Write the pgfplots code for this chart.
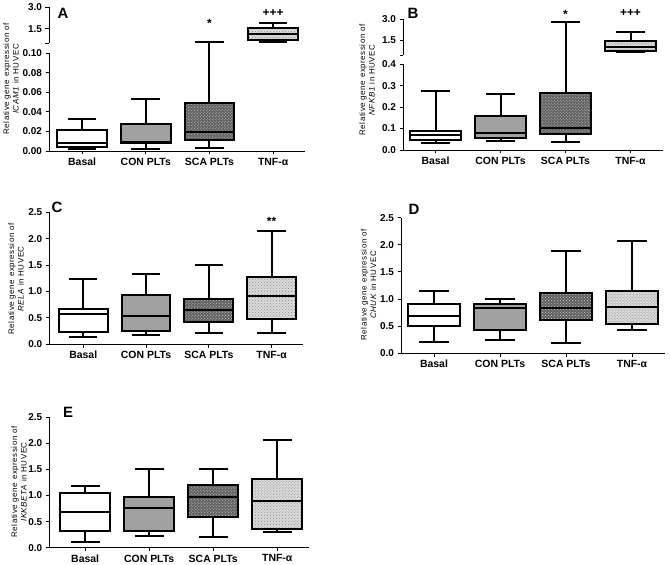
\documentclass[border=0pt]{standalone}
\usepackage{fontspec}
\setmainfont{Liberation Sans}
\newfontfamily\lsfont[LetterSpace=7]{Liberation Sans}
\usepackage{pgfplots}
\pgfplotsset{compat=1.18}
\usepgfplotslibrary{statistics}
\usetikzlibrary{patterns}

\pgfplotsset{
  panel/.style={scale only axis, anchor=south west, xmin=0.5, xmax=4.5, clip=false,
    axis x line*=bottom, axis y line*=left,
    axis line style={-, line width=0.9bp, black},
    tick align=outside, major tick length=3.5bp, tick style={black, line width=0.9bp},
    xtick={1,2,3,4}, xticklabels={Basal,CON PLTs,SCA PLTs,TNF-α},
    x tick label style={font=\bfseries\fontsize{10.5}{10.5}\selectfont},
    y tick label style={font=\bfseries\fontsize{10}{10}\selectfont},
    /pgf/number format/assume math mode=true,
    boxplot/draw direction=y,
    boxplot/box extend=0.78, boxplot/whisker extend=0.45},
  onedec/.style={ymin=0, ymax=2.5, ytick={0,0.5,1,1.5,2,2.5},
    yticklabel style={/pgf/number format/.cd, fixed, fixed zerofill, precision=1}},
  top/.style={panel, axis x line=none, xtick=\empty, ymin=0.5, ymax=3,
    ytick={0.5,1.5,3}, yticklabels={,1.5,3.0}},
  bx/.style={draw=black, line width=2bp, solid, mark=none},
  basal/.style={bx, fill=white},
  con/.style={bx, fill=black!37},
  sca/.style={bx, fill=black!62,
    boxplot/every box/.style={postaction={pattern=crosshatch dots, pattern color=black!22}}},
  tnf/.style={bx, fill=black!14,
    boxplot/every box/.style={postaction={pattern=crosshatch dots, pattern color=black!45}}},
}
\tikzset{ylab/.style={rotate=90, align=center, font=\lsfont\fontsize{8}{9.5}\selectfont},
  letter/.style={font=\bfseries\fontsize{15}{15}\selectfont},
  sig/.style={font=\bfseries\fontsize{12}{12}\selectfont}}

\begin{document}
\begin{tikzpicture}
\path[use as bounding box] (0bp,0bp) rectangle (670bp,565bp);

% ---------- A ----------
\begin{axis}[panel, at={(49bp,414bp)}, width=256bp, height=97.7bp, xmin=0.48,
  ymin=0, ymax=0.1, ytick={0,0.02,0.04,0.06,0.08,0.1},
  yticklabel style={/pgf/number format/.cd, fixed, fixed zerofill, precision=2}]
\addplot[basal, boxplot prepared={draw position=1, lower whisker=0.002, lower quartile=0.004,
  median=0.008, upper quartile=0.0215, upper whisker=0.033}] coordinates {};
\addplot[con, boxplot prepared={draw position=2, lower whisker=0.002, lower quartile=0.0085,
  median=0.0092, upper quartile=0.028, upper whisker=0.053}] coordinates {};
\addplot[sca, boxplot prepared={draw position=3, lower whisker=0.003, lower quartile=0.0113,
  median=0.019, upper quartile=0.0496, upper whisker=0.1116}] coordinates {};
\end{axis}
\begin{axis}[top, at={(49bp,521.7bp)}, width=256bp, height=36bp, xmin=0.48]
\addplot[tnf, boxplot prepared={draw position=4, lower whisker=0.61, lower quartile=0.70,
  median=1.17, upper quartile=1.55, upper whisker=1.92}] coordinates {};
\node[sig] at (axis cs:3,1.9) {*};
\node[sig] at (axis cs:4,2.6) {+++};
\end{axis}
\node[letter] at (63bp,552bp) {A};
\node[ylab] at (11bp,486bp) {Relative gene expression of\\\textit{ICAM1} in HUVEC};

% ---------- B ----------
\begin{axis}[panel, at={(403bp,415bp)}, width=260bp, height=85.7bp,
  ymin=0, ymax=0.4, ytick={0,0.1,0.2,0.3,0.4},
  yticklabel style={/pgf/number format/.cd, fixed, fixed zerofill, precision=1}]
\addplot[basal, boxplot prepared={draw position=1, lower whisker=0.034, lower quartile=0.047,
  median=0.07, upper quartile=0.09, upper whisker=0.277}] coordinates {};
\addplot[con, boxplot prepared={draw position=2, lower whisker=0.044, lower quartile=0.054,
  median=0.078, upper quartile=0.16, upper whisker=0.26}] coordinates {};
\addplot[sca, boxplot prepared={draw position=3, lower whisker=0.037, lower quartile=0.073,
  median=0.104, upper quartile=0.264, upper whisker=0.596}] coordinates {};
\end{axis}
\begin{axis}[top, at={(403bp,510bp)}, width=260bp, height=36bp]
\addplot[tnf, boxplot prepared={draw position=4, lower whisker=0.69, lower quartile=0.78,
  median=1.08, upper quartile=1.5, upper whisker=2.08}] coordinates {};
\node[sig] at (axis cs:3,3.35) {*};
\node[sig] at (axis cs:4,3.42) {+++};
\end{axis}
\node[letter] at (413bp,552bp) {B};
\node[ylab] at (367bp,485bp) {Relative gene expression of\\\textit{NFKB1} in HUVEC};

% ---------- C ----------
\begin{axis}[panel, onedec, at={(49.3bp,220.7bp)}, width=253.7bp, height=132bp, xmin=0.46]
\addplot[basal, boxplot prepared={draw position=1, lower whisker=0.133, lower quartile=0.234,
  median=0.568, upper quartile=0.675, upper whisker=1.231}] coordinates {};
\addplot[con, boxplot prepared={draw position=2, lower whisker=0.183, lower quartile=0.253,
  median=0.537, upper quartile=0.928, upper whisker=1.326}] coordinates {};
\addplot[sca, boxplot prepared={draw position=3, lower whisker=0.221, lower quartile=0.423,
  median=0.65, upper quartile=0.859, upper whisker=1.503}] coordinates {};
\addplot[tnf, boxplot prepared={draw position=4, lower whisker=0.221, lower quartile=0.486,
  median=0.922, upper quartile=1.282, upper whisker=2.153}] coordinates {};
\node[sig] at (axis cs:4,2.33) {**};
\end{axis}
\node[letter] at (57bp,358bp) {C};
\node[ylab] at (16bp,286bp) {Relative gene expression of\\\textit{RELA} in HUVEC};

% ---------- D ----------
\begin{axis}[panel, onedec, at={(401bp,211.7bp)}, width=264bp, height=135.6bp]
\addplot[basal, boxplot prepared={draw position=1, lower whisker=0.215, lower quartile=0.498,
  median=0.694, upper quartile=0.909, upper whisker=1.143}] coordinates {};
\addplot[con, boxplot prepared={draw position=2, lower whisker=0.246, lower quartile=0.43,
  median=0.841, upper quartile=0.909, upper whisker=1.001}] coordinates {};
\addplot[sca, boxplot prepared={draw position=3, lower whisker=0.184, lower quartile=0.614,
  median=0.83, upper quartile=1.118, upper whisker=1.892}] coordinates {};
\addplot[tnf, boxplot prepared={draw position=4, lower whisker=0.436, lower quartile=0.54,
  median=0.848, upper quartile=1.155, upper whisker=2.076}] coordinates {};
\end{axis}
\node[letter] at (414bp,356bp) {D};
\node[ylab] at (368.5bp,280bp) {Relative gene expression of\\\textit{CHUK} in HUVEC};

% ---------- E ----------
\begin{axis}[panel, onedec, at={(49.3bp,17.3bp)}, width=260bp, height=130.4bp, xmin=0.44]
\addplot[basal, boxplot prepared={draw position=1, lower whisker=0.115, lower quartile=0.313,
  median=0.678, upper quartile=1.055, upper whisker=1.183}] coordinates {};
\addplot[con, boxplot prepared={draw position=2, lower whisker=0.224, lower quartile=0.32,
  median=0.761, upper quartile=0.972, upper whisker=1.515}] coordinates {};
\addplot[sca, boxplot prepared={draw position=3, lower whisker=0.205, lower quartile=0.582,
  median=0.978, upper quartile=1.208, upper whisker=1.515}] coordinates {};
\addplot[tnf, boxplot prepared={draw position=4, lower whisker=0.294, lower quartile=0.358,
  median=0.889, upper quartile=1.324, upper whisker=2.072}] coordinates {};
\end{axis}
\node[letter] at (68bp,153bp) {E};
\node[ylab] at (19bp,83bp) {Relative gene expression of\\\textit{IKKBETA} in HUVEC};
\end{tikzpicture}
\end{document}
